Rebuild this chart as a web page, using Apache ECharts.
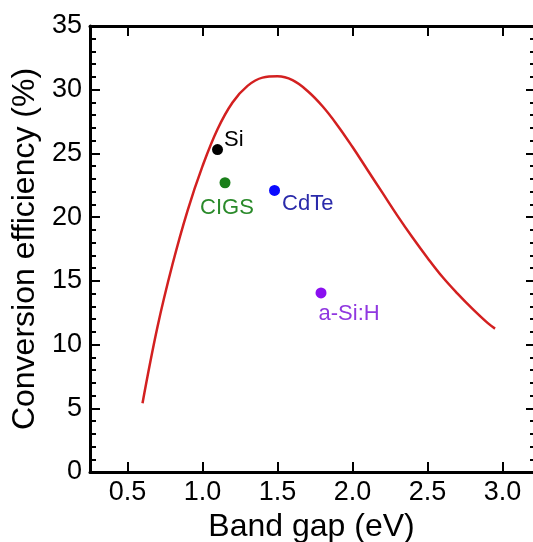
<!DOCTYPE html>
<html>
<head>
<meta charset="utf-8">
<script src="https://cdn.jsdelivr.net/npm/echarts@6/dist/echarts.min.js"></script>
<style>html,body{margin:0;padding:0;background:#fff;}#c{width:533px;height:542px;}</style>
</head>
<body>
<div id="c"></div>
<script>
const curveGap = [0.6, 0.7, 0.8, 0.9, 1.0, 1.1, 1.2, 1.3, 1.4, 1.5, 1.6, 1.7, 1.8, 1.9, 2.0, 2.1, 2.2, 2.3, 2.4, 2.5, 2.6, 2.7, 2.8, 2.9, 2.95];
const curveEff = [5.4, 11.4, 16.3, 20.5, 24.0, 26.9, 29.0, 30.3, 30.95, 31.05, 30.75, 29.9, 28.7, 27.2, 25.5, 23.7, 21.9, 20.1, 18.4, 16.8, 15.3, 14.0, 12.8, 11.7, 11.25];
const materials = ['Si', 'CIGS', 'CdTe', 'a-Si:H'];
const matGap = [1.1, 1.15, 1.48, 1.79];
const matEff = [25.3, 22.7, 22.1, 14.05];
const matColor = ['#000000', '#1a7f1a', '#0a0aff', '#8a10f0'];
const matLabelColor = ['#000000', '#2a8a2a', '#2a2aaa', '#9038e0'];
const matLabelPos = [[12, -15], 'bottom', [13, 8], [3, 15]];
const xTicks = [0.5, 1.0, 1.5, 2.0, 2.5, 3.0];
const yMin = 0, yMax = 35, yStep = 5;

const font = 'Liberation Sans, Arial, sans-serif';
const chart = echarts.init(document.getElementById('c'));

function axisLine(show) { return {show: show, onZero: false, lineStyle: {color: '#000', width: 3}}; }
function xAxis(pos, showLabel, name) {
  return {
    type: 'value', position: pos, min: 0.25, max: 3.203,
    name: name || '', nameLocation: 'middle', nameGap: 33,
    nameTextStyle: {fontFamily: font, fontSize: 32, color: '#000'},
    axisLine: axisLine(true),
    axisTick: {show: true, inside: true, length: 10, customValues: xTicks, lineStyle: {color: '#000', width: 2}},
    axisLabel: {show: showLabel, customValues: xTicks, formatter: v => v.toFixed(1), fontFamily: font, fontSize: 27, color: '#000', margin: 7},
    splitLine: {show: false}
  };
}
function yAxis(pos, showLabel, name) {
  const left = pos === 'left';
  return {
    type: 'value', position: pos, min: yMin, max: yMax, interval: yStep,
    name: name || '', nameLocation: 'middle', nameGap: 44, nameRotate: 90,
    nameTextStyle: {fontFamily: font, fontSize: 32, color: '#000'},
    axisLine: axisLine(left),
    axisTick: {show: true, inside: true, length: left ? 10 : 7, lineStyle: {color: '#000', width: 2}},
    minorTick: {show: true, splitNumber: 5, length: left ? 6 : 3, lineStyle: {color: '#000', width: 2}},
    axisLabel: {show: showLabel, fontFamily: font, fontSize: 27, color: '#000', margin: 8},
    splitLine: {show: false}
  };
}

const series = [{
  type: 'line', data: curveGap.map((g, i) => [g, curveEff[i]]),
  smooth: 0.4, showSymbol: false, symbol: 'none',
  lineStyle: {color: '#d32020', width: 2.5}, z: 2, silent: true
}];
materials.forEach((m, i) => {
  const p = matLabelPos[i];
  series.push({
    type: 'scatter', name: m, data: [[matGap[i], matEff[i]]],
    symbolSize: 11, itemStyle: {color: matColor[i], opacity: 1}, z: 3,
    label: {
      show: true, formatter: m, position: p,
      distance: 9, offset: p === 'bottom' ? [2, 0] : [0, 0],
      fontFamily: font, fontSize: 22, color: matLabelColor[i]
    }
  });
});

chart.setOption({
  animation: false,
  backgroundColor: '#fff',
  grid: {left: 90, top: 26, width: 443, height: 446, containLabel: false, outerBoundsMode: 'none'},
  xAxis: [xAxis('bottom', true, 'Band gap (eV)'), xAxis('top', false)],
  yAxis: [yAxis('left', true, 'Conversion efficiency (%)'), yAxis('right', false)],
  series: series
});
</script>
</body>
</html>
